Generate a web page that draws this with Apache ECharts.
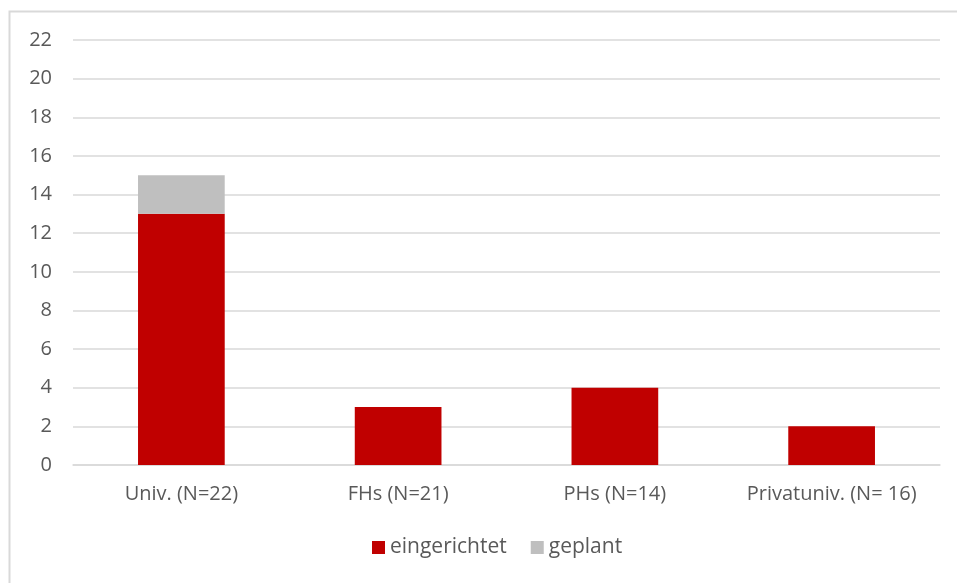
<!DOCTYPE html>
<html>
<head>
<meta charset="utf-8">
<script src="https://cdn.jsdelivr.net/npm/echarts@6/dist/echarts.min.js"></script>
<style>html,body{margin:0;padding:0;background:#fff}#c{width:957px;height:583px}</style>
</head>
<body>
<div id="c"></div>
<script>
const categories = ['Univ. (N=22)', 'FHs (N=21)', 'PHs (N=14)', 'Privatuniv. (N= 16)'];
const eingerichtet = [13, 3, 4, 2];
const geplant = [2, 0, 0, 0];
const yTicks = {min: 0, max: 22, interval: 2};

const chart = echarts.init(document.getElementById('c'));
const font = "'Open Sans', 'Liberation Sans', sans-serif";
chart.setOption({
  animation: false,
  graphic: [{
    type: 'rect', shape: {x: 9.5, y: 11.5, width: 1000, height: 700},
    style: {fill: 'none', stroke: '#d9d9d9', lineWidth: 2}, silent: true
  }],
  grid: {left: 73, right: 17, top: 40, bottom: 118},
  legend: {
    bottom: 20, left: 367, itemWidth: 13, itemHeight: 13, itemGap: 24,
    icon: 'rect',
    textStyle: {color: '#595959', fontSize: 21, fontFamily: font}
  },
  xAxis: {
    type: 'category', data: categories,
    axisLine: {lineStyle: {color: '#d9d9d9', width: 1.5}},
    axisTick: {show: false},
    axisLabel: {color: '#595959', fontSize: 20, fontFamily: font, margin: 19, interval: 0, hideOverlap: false}
  },
  yAxis: {
    type: 'value', min: yTicks.min, max: yTicks.max, interval: yTicks.interval,
    axisLine: {show: false}, axisTick: {show: false},
    splitLine: {lineStyle: {color: '#d9d9d9', width: 1.5}},
    axisLabel: {color: '#595959', fontSize: 20, fontFamily: font, margin: 21}
  },
  series: [
    {name: 'eingerichtet', type: 'bar', stack: 's', data: eingerichtet, barWidth: '40%',
     itemStyle: {color: '#c00000'}},
    {name: 'geplant', type: 'bar', stack: 's', data: geplant, barWidth: '40%',
     itemStyle: {color: '#bfbfbf'}}
  ]
});
</script>
</body>
</html>
